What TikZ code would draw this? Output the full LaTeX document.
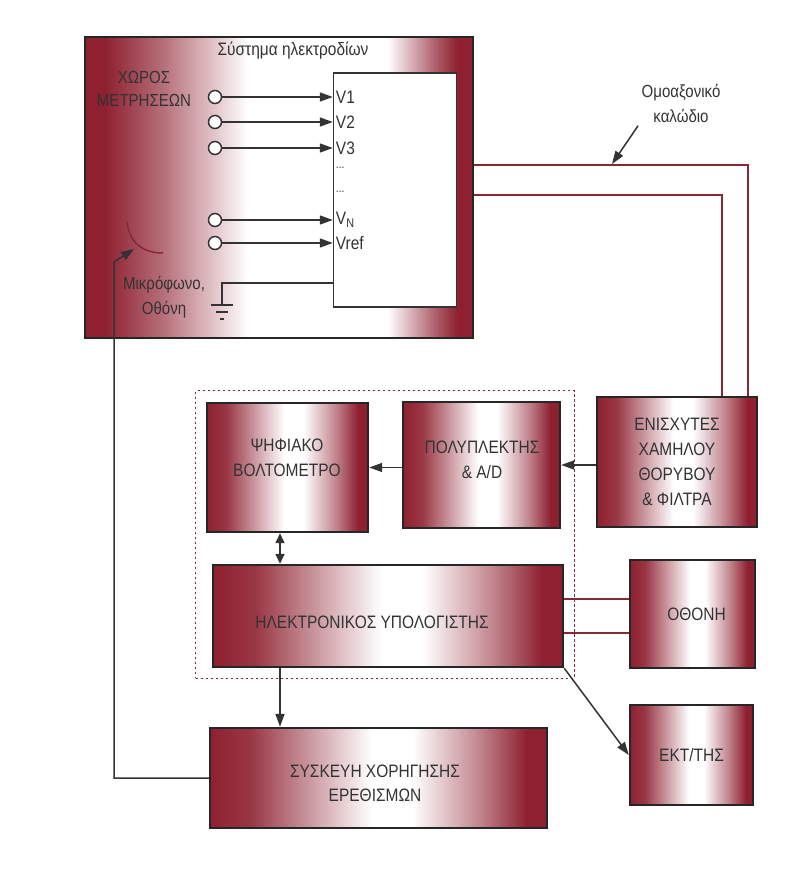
\documentclass[tikz,border=0pt]{standalone}
\usepackage{fontspec}
\setmainfont{Liberation Sans}[FakeStretch=0.86]
\usepackage{tikz}
\usetikzlibrary{arrows.meta,positioning,calc,fit}
\definecolor{boxred}{HTML}{8E2030}
\definecolor{cabred}{HTML}{8A2636}
\definecolor{inkgray}{HTML}{333333}
\pgfdeclarehorizontalshading{redband}{100bp}{color(0bp)=(boxred); color(25bp)=(boxred);
  color(31bp)=(boxred!90); color(41bp)=(boxred!40); color(49bp)=(white); color(55bp)=(white);
  color(65bp)=(boxred!55); color(72bp)=(boxred); color(100bp)=(boxred)}
\pgfdeclarehorizontalshading{roomband}{100bp}{color(0bp)=(boxred); color(27.5bp)=(boxred);
  color(35bp)=(boxred!65); color(46bp)=(white); color(64bp)=(white); color(70bp)=(boxred!70);
  color(73bp)=(boxred); color(100bp)=(boxred)}

\begin{document}
\begin{tikzpicture}[x=1pt,y=-1pt,font=\fontsize{18}{25}\selectfont,text=inkgray,
  blok/.style={draw=black!85,line width=2.4pt,shade,shading=redband,align=center,inner sep=0pt},
  bloktext/.style={align=center,inner sep=0pt},
  lead/.style={draw=inkgray,line width=1.5pt},
  arr/.style={lead,-{Triangle[length=13pt,width=9pt]}},
  cable/.style={draw=cabred,line width=2pt},
  terminal/.style={circle,draw=inkgray,line width=1.5pt,fill=white,minimum size=13pt,inner sep=0pt}]
\useasboundingbox (0,0) rectangle (786,875);
% measurement room and electrodes
\node[blok,shading=roomband,minimum width=388pt,minimum height=301pt] (meas) at (279,187.5) {};
\node[draw=inkgray,line width=1.5pt,fill=white,minimum width=123pt,minimum height=234pt] (elec) at (395,190) {};
\node (sysl) at (293,51) {Σύστημα ηλεκτροδίων};
\node[align=center,font=\fontsize{17.5}{23}\selectfont] (room) at (144,89) {ΧΩΡΟΣ\\ΜΕΤΡΗΣΕΩΝ};
\foreach \yy/\lab [count=\i] in {97/V1,122/V2,148/V3,220/{V\textsubscript{N}},243/Vref}{
  \node[terminal] (t\i) at (215,\yy) {};
  \draw[arr] (t\i) -- (elec.west|-t\i);
  \node[anchor=west,inner sep=3pt] (v\i) at (elec.west|-t\i) {\lab};
}
\node[anchor=west,inner sep=3pt,font=\fontsize{12}{14}\selectfont] (dots1) at (elec.west|-0,168) {...};
\node[anchor=west,inner sep=3pt,font=\fontsize{12}{14}\selectfont] (dots2) at (elec.west|-0,192) {...};
% ground
\coordinate (gnd) at (222,305);
\draw[lead] (elec.west|-0,283) -| (gnd);
\draw[lead] (211,305) -- (233,305) (216,312) -- (228,312) (220,319) -- (224,319);
% microphone
\draw[cabred,line width=1.5pt] (127,222) .. controls (129,240) and (140,253) .. (163,253);
\coordinate (mic) at (134,249);
\node[align=center,font=\fontsize{17.5}{25}\selectfont] (micl) at (164,297) {Μικρόφωνο,\\Οθόνη};
% coaxial cable
\node[align=center,font=\fontsize{17.5}{25}\selectfont] (cablel) at (681,103) {Ομοαξονικό\\καλώδιο};
\coordinate (cA) at (748,165);
\coordinate (cB) at (722,195);
\coordinate (cArr) at (612,164);
\draw[arr] (cablel.south west) -- (cArr);
% processing blocks
\node[blok,minimum width=161pt,minimum height=129pt] (volt) at (287.5,467.5) {};
\node[bloktext] (voltl) at (287,458) {ΨΗΦΙΑΚΟ\\ΒΟΛΤΟΜΕΤΡΟ};
\node[blok,minimum width=157pt,minimum height=126pt] (mux) at (481.5,465) {};
\node[bloktext] (muxl) at (482,460) {ΠΟΛΥΠΛΕΚΤΗΣ\\\& A/D};
\node[blok,minimum width=160pt,minimum height=130pt] (amp) at (677,462) {ΕΝΙΣΧΥΤΕΣ\\ΧΑΜΗΛΟΥ\\ΘΟΡΥΒΟΥ\\\& ΦΙΛΤΡΑ};
\node[blok,minimum width=350pt,minimum height=102pt] (comp) at (388,616) {};
\node[bloktext] (compl) at (372,622) {ΗΛΕΚΤΡΟΝΙΚΟΣ ΥΠΟΛΟΓΙΣΤΗΣ};
\node[blok,minimum width=125pt,minimum height=108pt] (scr) at (692.5,614) {\hspace*{8pt}ΟΘΟΝΗ};
\node[blok,minimum width=123pt,minimum height=100pt] (prn) at (691.5,755) {ΕΚΤ/ΤΗΣ};
\node[blok,minimum width=337pt,minimum height=100pt] (stim) at (378.5,778) {};
\node[bloktext,font=\fontsize{18}{24}\selectfont] (stiml) at (375,783) {ΣΥΣΚΕΥΗ ΧΟΡΗΓΗΣΗΣ\\ΕΡΕΘΙΣΜΩΝ};
\node[draw=cabred,line width=1.3pt,dash pattern=on 2.5pt off 2.5pt,inner sep=10pt,fit=(volt)(mux)(comp)] (grp) {};
% connections
\draw[cable] (meas.east|-cA) -- (cA) -- (amp.north-|cA);
\draw[cable] (meas.east|-cB) -- (cB) -- (amp.north-|cB);
\draw[arr] (amp.west|-mux) -- (mux.east);
\draw[arr] (mux.west|-volt) -- (volt.east);
\draw[lead,{Triangle[length=10pt,width=9pt]}-{Triangle[length=10pt,width=9pt]}]
  ([xshift=-7.5pt]volt.south) -- ([xshift=-7.5pt]volt.south|-comp.north);
\draw[arr] ([xshift=-108pt]comp.south) -- ([xshift=-108pt]comp.south|-stim.north);
\draw[cable] ([yshift=17pt]comp.east) -- ([yshift=17pt]comp.east-|scr.west);
\draw[cable] ([yshift=-17pt]comp.east) -- ([yshift=-17pt]comp.east-|scr.west);
\draw[arr] (comp.south east) -- (prn.west);
\draw[arr] (stim.west) -| (114,262) -- (mic);
\end{tikzpicture}
\end{document}
